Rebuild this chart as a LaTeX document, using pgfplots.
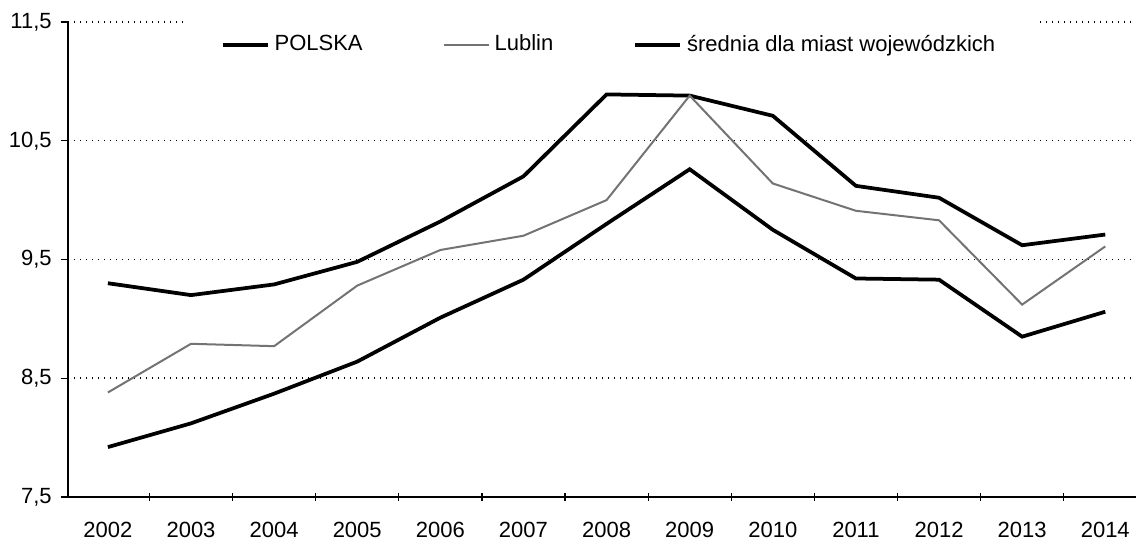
\documentclass[border=0pt]{standalone}
\usepackage{fontspec}
\setmainfont{Liberation Sans}
\usepackage{pgfplots}
\pgfplotsset{compat=1.18}
\begin{document}
\begin{tikzpicture}
\begin{axis}[
  name=ax,
  scale only axis,
  width=427.2pt, height=190pt,
  xmin=-0.48, xmax=12.37,
  ymin=7.5, ymax=11.5,
  axis lines=left,
  axis line style={-, black, line width=0.6pt},
  xtick={0,...,12},
  xticklabels={2002,2003,2004,2005,2006,2007,2008,2009,2010,2011,2012,2013,2014},
  major x tick style={draw=none},
  minor xtick={0.5,1.5,...,11.5},
  minor x tick style={black, line width=0.5pt},
  minor tick length=3pt,
  xticklabel style={yshift=-5pt},
  ytick={7.5,8.5,9.5,10.5,11.5},
  ytick align=outside,
  major tick length=3pt,
  y tick style={black, line width=0.5pt},
  yticklabel style={/pgf/number format/.cd, use comma, fixed, fixed zerofill, precision=1},
  /pgf/number format/assume math mode=true,
  ymajorgrids,
  grid style={dotted, black, line width=0.6pt},
  font=\fontsize{8.8}{10}\selectfont,
  tick label style={font=\fontsize{8.8}{10}\selectfont},
  legend columns=3,
  legend style={at={(rel axis cs:0.508,0.952)}, anchor=center, draw=none, fill=white,
    inner xsep=14pt, inner ysep=9pt,
    font=\fontsize{8.8}{10}\selectfont,
    /tikz/every even column/.append style={column sep=30pt}},
  legend image code/.code={\draw[#1] (0pt,0pt) -- (18pt,0pt);},
  clip=false,
]
\addplot[black, line width=1.5pt] coordinates {
(0,9.30) (1,9.20) (2,9.29) (3,9.48) (4,9.82) (5,10.20) (6,10.89) (7,10.88) (8,10.71) (9,10.12) (10,10.02) (11,9.62) (12,9.71)};
\addlegendentry{POLSKA}
\addplot[black!55, line width=0.8pt] coordinates {
(0,8.38) (1,8.79) (2,8.77) (3,9.28) (4,9.58) (5,9.70) (6,10.00) (7,10.88) (8,10.14) (9,9.91) (10,9.83) (11,9.12) (12,9.61)};
\addlegendentry{Lublin}
\addplot[black, line width=1.5pt] coordinates {
(0,7.92) (1,8.12) (2,8.37) (3,8.64) (4,9.01) (5,9.33) (6,9.80) (7,10.26) (8,9.75) (9,9.34) (10,9.33) (11,8.85) (12,9.06)};
\addlegendentry{średnia dla miast wojewódzkich}
\end{axis}
\pgfresetboundingbox
\path ([shift={(-27.2pt,-21.6pt)}]ax.south west) rectangle ([shift={(0pt,8.8pt)}]ax.north east);
\end{tikzpicture}
\end{document}
